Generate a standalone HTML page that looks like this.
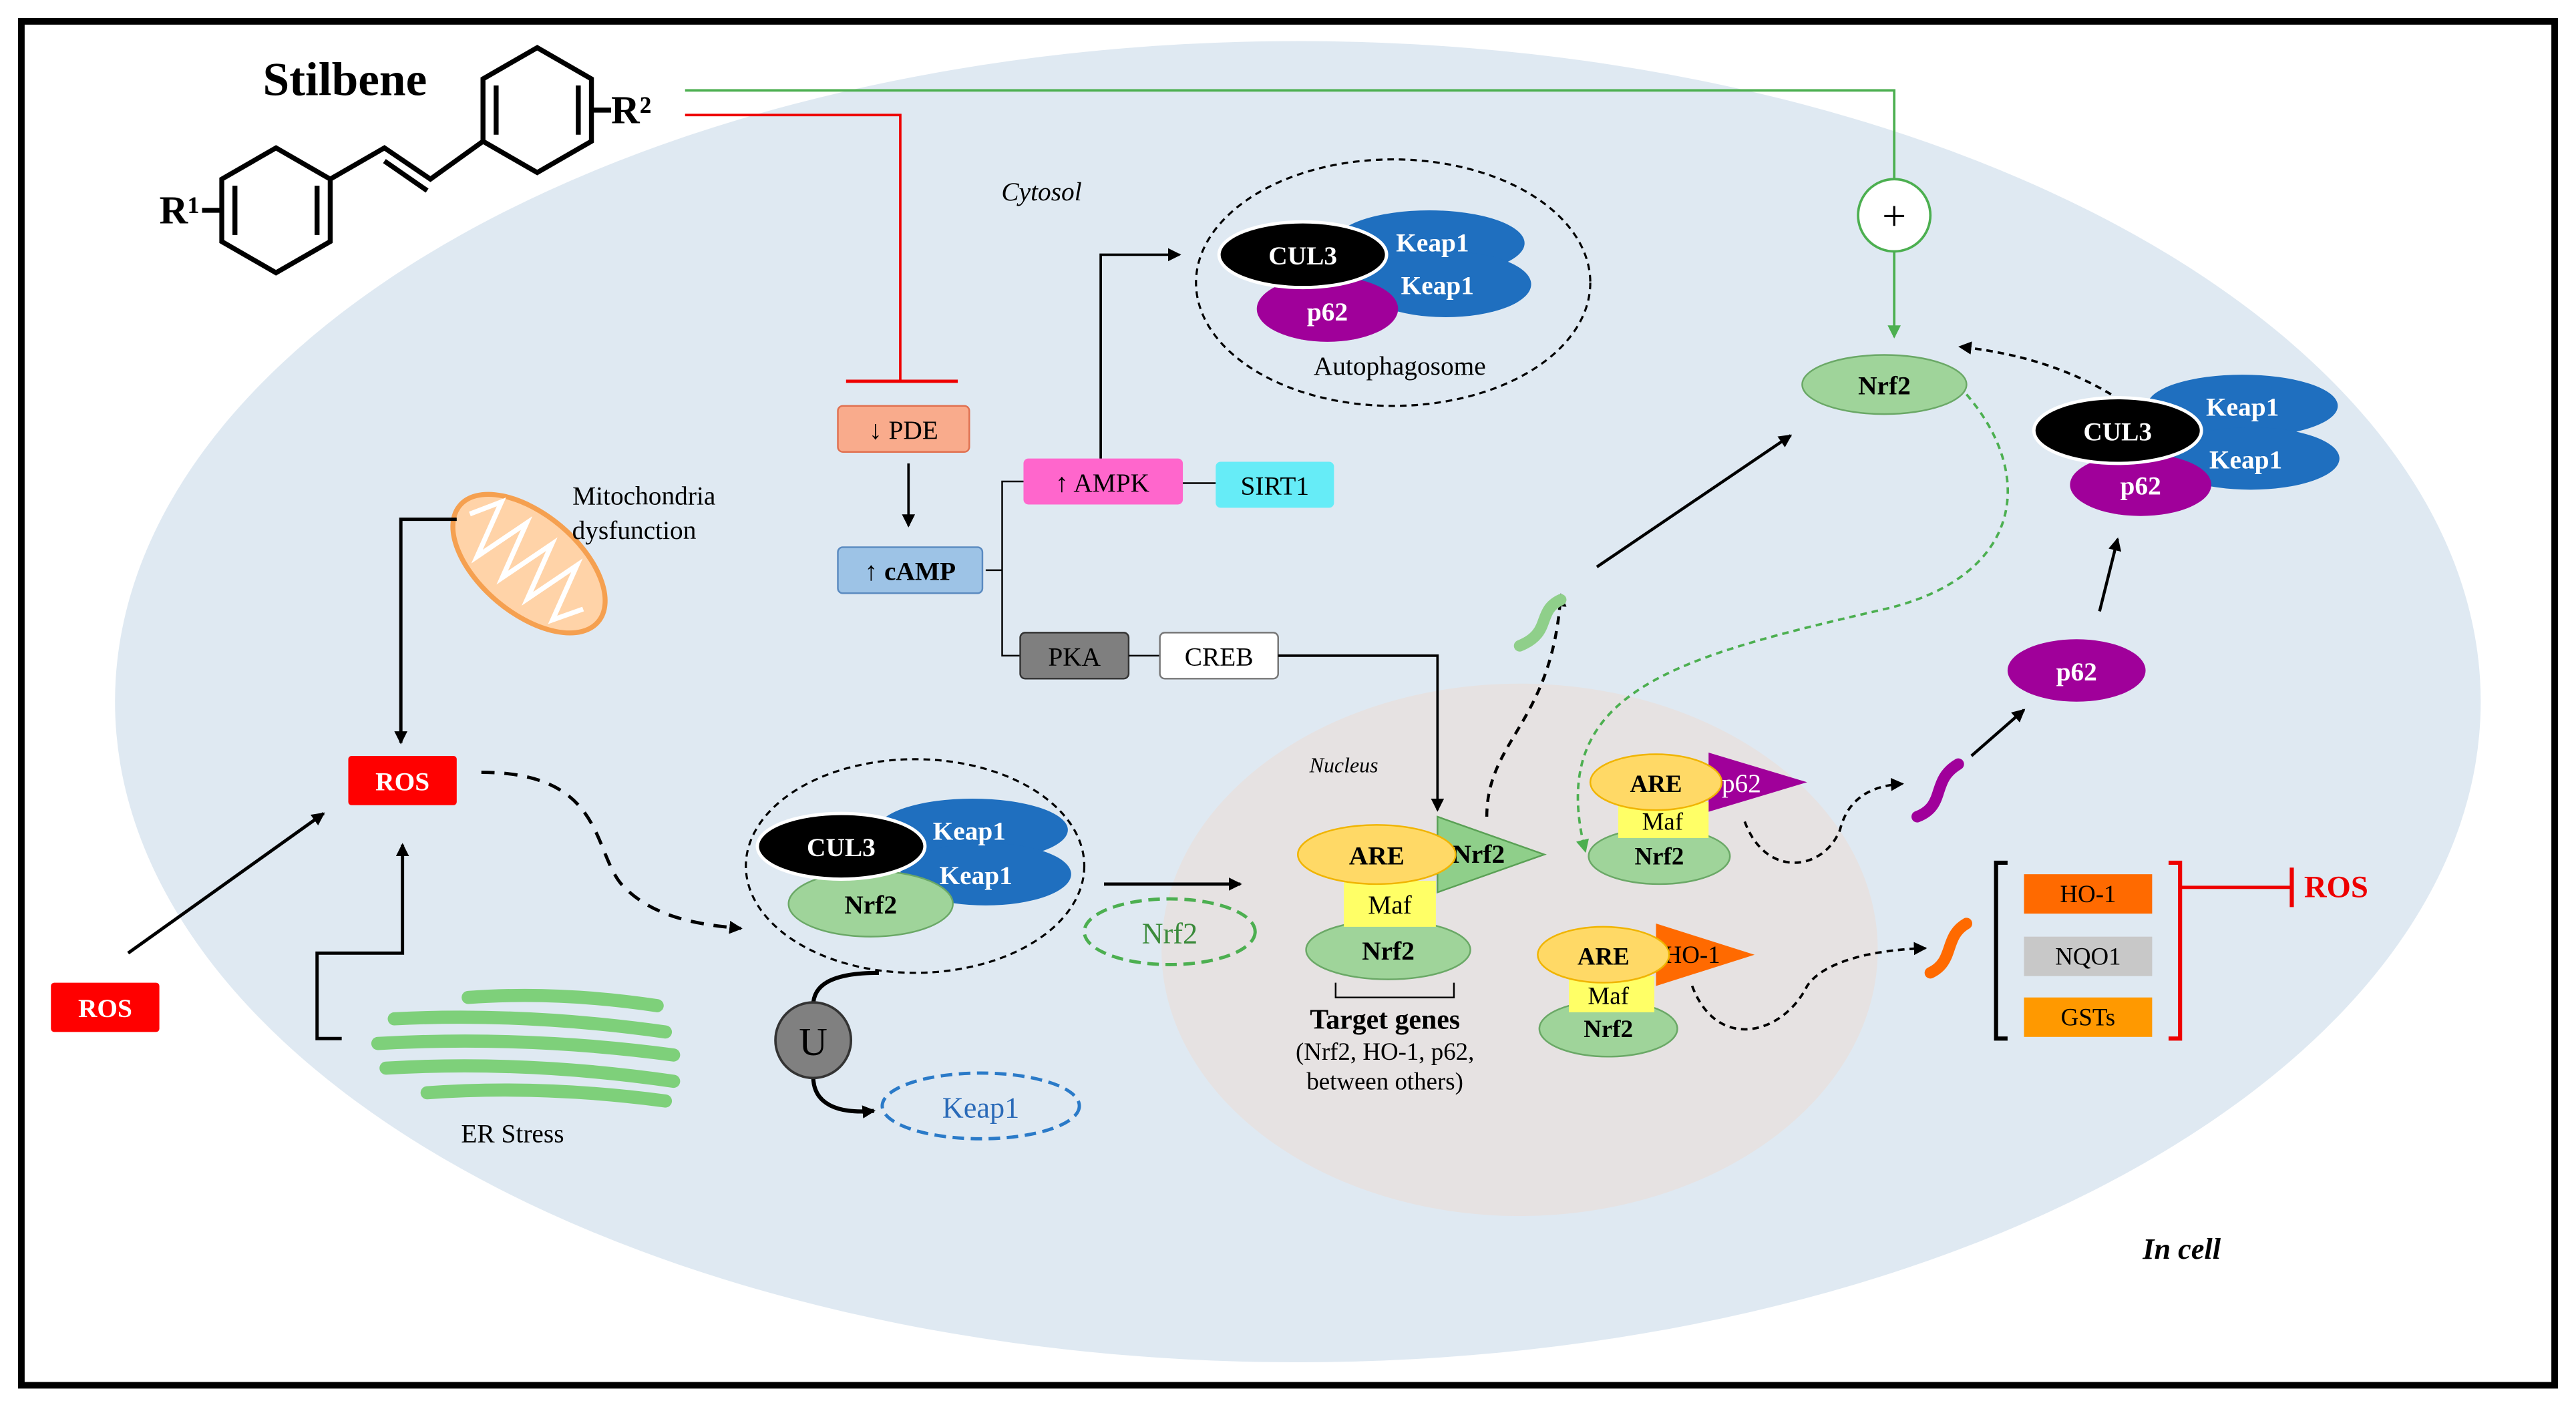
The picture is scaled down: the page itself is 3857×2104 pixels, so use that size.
<!DOCTYPE html>
<html><head><meta charset="utf-8"><style>
html,body{margin:0;padding:0;background:#fff;}
svg{display:block;}
text{font-family:"Liberation Serif",serif;}
</style></head><body>
<svg width="3857" height="2104" viewBox="0 0 1568 855" preserveAspectRatio="none" xmlns="http://www.w3.org/2000/svg">
<defs>
<marker id="ab" markerWidth="8" markerHeight="8" refX="7" refY="4" orient="auto" markerUnits="userSpaceOnUse"><path d="M0,0 L8,4 L0,8 z" fill="#000"/></marker>
<marker id="ag" markerWidth="8" markerHeight="8" refX="7" refY="4" orient="auto" markerUnits="userSpaceOnUse"><path d="M0,0 L8,4 L0,8 z" fill="#4caf50"/></marker>
</defs>
<rect x="0" y="0" width="1568" height="855" fill="#fff"/>
<rect x="13" y="13" width="1542" height="830" fill="none" stroke="#000" stroke-width="4"/>
<ellipse cx="790" cy="427" rx="720" ry="402" fill="#dfe9f2"/>
<ellipse cx="925" cy="578" rx="218" ry="162" fill="#e6e2e2"/>

<!-- Stilbene -->
<text x="160" y="58" font-size="29" font-weight="bold">Stilbene</text>
<g fill="none" stroke="#000" stroke-width="3">
<polygon points="168,90 201,109 201,147 168,166 135,147 135,109"/>
<polygon points="327,29 360,48 360,86 327,105 294,86 294,48"/>
<line x1="143" y1="113" x2="143" y2="143"/><line x1="193" y1="113" x2="193" y2="143"/>
<line x1="302" y1="52" x2="302" y2="82"/><line x1="352" y1="52" x2="352" y2="82"/>
<polyline points="201,109 234,90 262,109 294,86"/>
<line x1="234" y1="98" x2="260" y2="116"/>
<line x1="360" y1="67" x2="372" y2="67"/>
<line x1="135" y1="128" x2="123" y2="128"/>
</g>
<text x="97" y="136" font-size="24" font-weight="bold">R¹</text>
<text x="372" y="75" font-size="24" font-weight="bold">R²</text>

<!-- green & red lines -->
<polyline points="417,55 1153,55 1153,110" fill="none" stroke="#4caf50" stroke-width="1.5"/>
<circle cx="1153" cy="131" r="22" fill="#fff" stroke="#4caf50" stroke-width="1.5"/>
<text x="1153" y="140" font-size="26" text-anchor="middle" fill="#000">+</text>
<line x1="1153" y1="153" x2="1153" y2="205" stroke="#4caf50" stroke-width="1.5" marker-end="url(#ag)"/>
<polyline points="417,70 548,70 548,232" fill="none" stroke="#e00" stroke-width="1.5"/>
<line x1="515" y1="232" x2="583" y2="232" stroke="#e00" stroke-width="2"/>

<text x="634" y="122" font-size="16" font-style="italic" text-anchor="middle">Cytosol</text>

<!-- PDE / cAMP -->
<rect x="510" y="247" width="80" height="28" rx="3" fill="#f9ab8c" stroke="#e07050"/>
<text x="550" y="267" font-size="16" text-anchor="middle">↓ PDE</text>
<line x1="553" y1="282" x2="553" y2="320" stroke="#000" stroke-width="1.5" marker-end="url(#ab)"/>
<rect x="510" y="333" width="88" height="28" rx="3" fill="#9dc3e6" stroke="#5a8ac0"/>
<text x="554" y="353" font-size="16" font-weight="bold" text-anchor="middle">↑ cAMP</text>
<polyline points="600,347 610,347" stroke="#000" fill="none"/>
<polyline points="623,293 610,293 610,399 621,399" stroke="#000" fill="none"/>
<rect x="623" y="279" width="97" height="28" rx="3" fill="#ff66cc"/>
<text x="671" y="299" font-size="16" text-anchor="middle">↑ AMPK</text>
<line x1="720" y1="294" x2="740" y2="294" stroke="#000"/>
<rect x="740" y="281" width="72" height="28" rx="3" fill="#66ecf7"/>
<text x="776" y="301" font-size="16" text-anchor="middle">SIRT1</text>
<polyline points="670,279 670,155 718,155" fill="none" stroke="#000" stroke-width="1.5" marker-end="url(#ab)"/>
<rect x="621" y="385" width="66" height="28" rx="3" fill="#7f7f7f" stroke="#333"/>
<text x="654" y="405" font-size="16" text-anchor="middle">PKA</text>
<line x1="687" y1="399" x2="706" y2="399" stroke="#000"/>
<rect x="706" y="385" width="72" height="28" rx="3" fill="#fff" stroke="#777"/>
<text x="742" y="405" font-size="16" text-anchor="middle">CREB</text>
<polyline points="778,399 875,399 875,493" fill="none" stroke="#000" stroke-width="1.5" marker-end="url(#ab)"/>

<!-- Autophagosome -->
<ellipse cx="848" cy="172" rx="120" ry="75" fill="none" stroke="#000" stroke-dasharray="4,3" stroke-width="1.3"/>
<ellipse cx="870" cy="148" rx="58" ry="20" fill="#1f6fbf"/>
<ellipse cx="880" cy="173" rx="52" ry="20" fill="#1f6fbf"/>
<ellipse cx="808" cy="188" rx="43" ry="20" fill="#a0009a"/>
<ellipse cx="793" cy="155" rx="51" ry="20" fill="#000" stroke="#fff" stroke-width="2"/>
<text x="793" y="161" font-size="16" font-weight="bold" fill="#fff" text-anchor="middle">CUL3</text>
<text x="872" y="153" font-size="16" font-weight="bold" fill="#fff" text-anchor="middle">Keap1</text>
<text x="875" y="179" font-size="16" font-weight="bold" fill="#fff" text-anchor="middle">Keap1</text>
<text x="808" y="195" font-size="16" font-weight="bold" fill="#fff" text-anchor="middle">p62</text>
<text x="852" y="228" font-size="16" text-anchor="middle">Autophagosome</text>

<!-- Mitochondria -->
<g transform="rotate(40 322 343)">
<ellipse cx="322" cy="343" rx="55" ry="30" fill="#ffd3a8" stroke="#f5a050" stroke-width="3"/>
<path d="M275,343 L285,325 L295,360 L305,325 L315,360 L325,325 L335,360 L345,325 L355,360 L365,343" fill="none" stroke="#fff" stroke-width="3"/>
</g>
<text x="392" y="307" font-size="16" text-anchor="middle">Mitochondria</text>
<text x="386" y="328" font-size="16" text-anchor="middle">dysfunction</text>
<polyline points="278,316 244,316 244,452" fill="none" stroke="#000" stroke-width="2" marker-end="url(#ab)"/>

<rect x="212" y="460" width="66" height="30" rx="2" fill="#f00"/>
<text x="245" y="481" font-size="16" font-weight="bold" fill="#fff" text-anchor="middle">ROS</text>
<rect x="31" y="598" width="66" height="30" rx="2" fill="#f00"/>
<text x="64" y="619" font-size="16" font-weight="bold" fill="#fff" text-anchor="middle">ROS</text>
<line x1="78" y1="580" x2="197" y2="495" stroke="#000" stroke-width="2" marker-end="url(#ab)"/>

<!-- ER stress -->
<g stroke="#7ed07a" stroke-width="8" stroke-linecap="round" fill="none">
<path d="M285,607 Q340,603 400,612"/>
<path d="M240,620 Q320,616 405,628"/>
<path d="M230,635 Q320,630 410,642"/>
<path d="M235,650 Q320,645 410,658"/>
<path d="M260,665 Q330,660 405,670"/>
</g>
<polyline points="208,632 193,632 193,580 245,580 245,514" fill="none" stroke="#000" stroke-width="2" marker-end="url(#ab)"/>
<text x="312" y="695" font-size="16" text-anchor="middle">ER Stress</text>

<path d="M293,470 C370,470 360,520 380,540 C400,560 430,563 451,565" fill="none" stroke="#000" stroke-width="2" stroke-dasharray="8,6" marker-end="url(#ab)"/>

<!-- cytosol complex -->
<ellipse cx="557" cy="527" rx="103" ry="65" fill="none" stroke="#000" stroke-dasharray="4,3" stroke-width="1.3"/>
<ellipse cx="592" cy="505" rx="58" ry="19" fill="#1f6fbf"/>
<ellipse cx="600" cy="532" rx="52" ry="19" fill="#1f6fbf"/>
<ellipse cx="530" cy="550" rx="50" ry="20" fill="#9fd49a" stroke="#6aa866"/>
<ellipse cx="512" cy="515" rx="51" ry="20" fill="#000" stroke="#fff" stroke-width="2"/>
<text x="512" y="521" font-size="16" font-weight="bold" fill="#fff" text-anchor="middle">CUL3</text>
<text x="590" y="511" font-size="16" font-weight="bold" fill="#fff" text-anchor="middle">Keap1</text>
<text x="594" y="538" font-size="16" font-weight="bold" fill="#fff" text-anchor="middle">Keap1</text>
<text x="530" y="556" font-size="16" font-weight="bold" text-anchor="middle">Nrf2</text>
<line x1="672" y1="538" x2="755" y2="538" stroke="#000" stroke-width="2" marker-end="url(#ab)"/>
<ellipse cx="712" cy="567" rx="52" ry="20" fill="none" stroke="#4caf50" stroke-width="2" stroke-dasharray="7,4"/>
<text x="712" y="574" font-size="18" fill="#3a8a3a" text-anchor="middle">Nrf2</text>
<path d="M535,592 C505,592 495,600 495,612" fill="none" stroke="#000" stroke-width="2.5"/>
<path d="M495,655 C495,672 510,678 532,676" fill="none" stroke="#000" stroke-width="2.5" marker-end="url(#ab)"/>
<circle cx="495" cy="633" r="23" fill="#808080" stroke="#333" stroke-width="1.5"/>
<text x="495" y="642" font-size="24" text-anchor="middle">U</text>
<ellipse cx="597" cy="673" rx="60" ry="20" fill="none" stroke="#2a7ac8" stroke-width="2" stroke-dasharray="7,4"/>
<text x="597" y="680" font-size="18" fill="#2a6ab8" text-anchor="middle">Keap1</text>

<!-- Nucleus -->
<text x="818" y="470" font-size="13" font-style="italic" text-anchor="middle">Nucleus</text>
<polygon points="875,497 875,543 940,520" fill="#8fcf8a" stroke="#5aa055"/>
<text x="900" y="525" font-size="16" font-weight="bold" text-anchor="middle">Nrf2</text>
<ellipse cx="845" cy="578" rx="50" ry="18" fill="#9fd49a" stroke="#6aa866"/>
<rect x="818" y="536" width="56" height="28" fill="#ffff66"/>
<ellipse cx="838" cy="520" rx="48" ry="18" fill="#ffd966" stroke="#f0b400"/>
<text x="838" y="526" font-size="16" font-weight="bold" text-anchor="middle">ARE</text>
<text x="846" y="556" font-size="16" text-anchor="middle">Maf</text>
<text x="845" y="584" font-size="16" font-weight="bold" text-anchor="middle">Nrf2</text>
<polyline points="813,598 813,607 885,607 885,598" fill="none" stroke="#000"/>
<text x="843" y="626" font-size="17" font-weight="bold" text-anchor="middle">Target genes</text>
<text x="843" y="645" font-size="15" text-anchor="middle">(Nrf2, HO-1, p62,</text>
<text x="843" y="663" font-size="15" text-anchor="middle">between others)</text>

<path d="M905,497 C905,450 945,440 950,362" fill="none" stroke="#000" stroke-width="1.8" stroke-dasharray="5,4" marker-end="url(#ab)"/>
<path d="M925,393 C945,385 935,372 950,365" fill="none" stroke="#8fcf8a" stroke-width="7" stroke-linecap="round"/>
<line x1="972" y1="345" x2="1090" y2="265" stroke="#000" stroke-width="1.8" marker-end="url(#ab)"/>
<ellipse cx="1147" cy="234" rx="50" ry="18" fill="#9fd49a" stroke="#6aa866"/>
<text x="1147" y="240" font-size="16" font-weight="bold" text-anchor="middle">Nrf2</text>
<path d="M1197,240 C1240,290 1230,350 1150,370 C1020,400 940,420 965,518" fill="none" stroke="#4caf50" stroke-width="1.5" stroke-dasharray="4,3" marker-end="url(#ag)"/>

<!-- right complex -->
<ellipse cx="1365" cy="247" rx="58" ry="19" fill="#1f6fbf"/>
<ellipse cx="1370" cy="279" rx="54" ry="19" fill="#1f6fbf"/>
<ellipse cx="1303" cy="295" rx="43" ry="19" fill="#a0009a"/>
<ellipse cx="1289" cy="262" rx="51" ry="20" fill="#000" stroke="#fff" stroke-width="2"/>
<text x="1289" y="268" font-size="16" font-weight="bold" fill="#fff" text-anchor="middle">CUL3</text>
<text x="1365" y="253" font-size="16" font-weight="bold" fill="#fff" text-anchor="middle">Keap1</text>
<text x="1367" y="285" font-size="16" font-weight="bold" fill="#fff" text-anchor="middle">Keap1</text>
<text x="1303" y="301" font-size="16" font-weight="bold" fill="#fff" text-anchor="middle">p62</text>
<path d="M1285,240 C1260,225 1230,215 1193,211" fill="none" stroke="#000" stroke-width="1.5" stroke-dasharray="4,3" marker-end="url(#ab)"/>
<ellipse cx="1264" cy="408" rx="42" ry="19" fill="#a0009a"/>
<text x="1264" y="414" font-size="16" font-weight="bold" fill="#fff" text-anchor="middle">p62</text>
<line x1="1278" y1="372" x2="1289" y2="328" stroke="#000" stroke-width="1.8" marker-end="url(#ab)"/>

<!-- ARE p62 -->
<polygon points="1040,458 1040,494 1100,476" fill="#a0009a"/>
<text x="1060" y="482" font-size="16" fill="#fff" text-anchor="middle">p62</text>
<ellipse cx="1010" cy="521" rx="43" ry="17" fill="#9fd49a" stroke="#6aa866"/>
<rect x="985" y="488" width="55" height="22" fill="#ffff66"/>
<ellipse cx="1008" cy="476" rx="40" ry="17" fill="#ffd966" stroke="#f0b400"/>
<text x="1008" y="482" font-size="15" font-weight="bold" text-anchor="middle">ARE</text>
<text x="1012" y="505" font-size="15" text-anchor="middle">Maf</text>
<text x="1010" y="526" font-size="15" font-weight="bold" text-anchor="middle">Nrf2</text>
<path d="M1062,500 C1075,535 1110,530 1120,505 C1125,485 1140,478 1158,477" fill="none" stroke="#000" stroke-width="1.5" stroke-dasharray="4,3" marker-end="url(#ab)"/>
<path d="M1167,497 C1185,490 1175,475 1192,465" fill="none" stroke="#a0009a" stroke-width="7" stroke-linecap="round"/>
<line x1="1200" y1="460" x2="1232" y2="432" stroke="#000" stroke-width="1.8" marker-end="url(#ab)"/>

<!-- ARE HO-1 -->
<polygon points="1008,562 1008,600 1068,581" fill="#ff6a00"/>
<text x="1030" y="586" font-size="15" text-anchor="middle">HO-1</text>
<ellipse cx="979" cy="626" rx="42" ry="17" fill="#9fd49a" stroke="#6aa866"/>
<rect x="955" y="594" width="52" height="22" fill="#ffff66"/>
<ellipse cx="976" cy="581" rx="40" ry="17" fill="#ffd966" stroke="#f0b400"/>
<text x="976" y="587" font-size="15" font-weight="bold" text-anchor="middle">ARE</text>
<text x="979" y="611" font-size="15" text-anchor="middle">Maf</text>
<text x="979" y="631" font-size="15" font-weight="bold" text-anchor="middle">Nrf2</text>
<path d="M1030,600 C1045,640 1085,630 1100,600 C1110,585 1140,578 1172,577" fill="none" stroke="#000" stroke-width="1.5" stroke-dasharray="4,3" marker-end="url(#ab)"/>
<path d="M1175,592 C1190,585 1183,570 1197,562" fill="none" stroke="#ff6a00" stroke-width="7" stroke-linecap="round"/>

<!-- outputs -->
<polyline points="1222,525 1215,525 1215,632 1222,632" fill="none" stroke="#000" stroke-width="2.5"/>
<rect x="1232" y="532" width="78" height="24" fill="#ff6a00"/>
<text x="1271" y="549" font-size="15" text-anchor="middle">HO-1</text>
<rect x="1232" y="570" width="78" height="24" fill="#c8c8c8"/>
<text x="1271" y="587" font-size="15" text-anchor="middle">NQO1</text>
<rect x="1232" y="607" width="78" height="24" fill="#ff9900"/>
<text x="1271" y="624" font-size="15" text-anchor="middle">GSTs</text>
<polyline points="1320,525 1327,525 1327,632 1320,632" fill="none" stroke="#e00" stroke-width="2.5"/>
<line x1="1327" y1="540" x2="1395" y2="540" stroke="#e00" stroke-width="2"/>
<line x1="1395" y1="528" x2="1395" y2="552" stroke="#e00" stroke-width="2.5"/>
<text x="1422" y="546" font-size="19" font-weight="bold" fill="#e00" text-anchor="middle">ROS</text>

<text x="1328" y="766" font-size="18" font-weight="bold" font-style="italic" text-anchor="middle">In cell</text>
</svg>
</body></html>
